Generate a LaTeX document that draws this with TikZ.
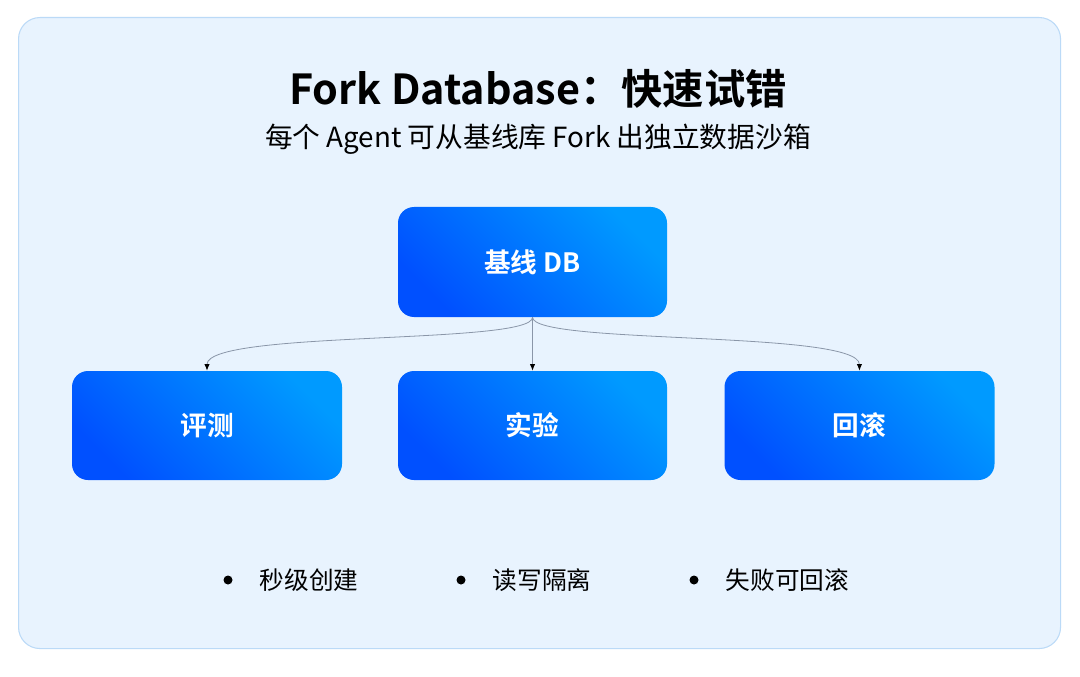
\documentclass[tikz,border=0pt]{standalone}
\usepackage{fontspec}
\setmainfont{Noto Sans CJK SC}
\newfontfamily\cjkb{Noto Sans CJK SC Bold}
\usetikzlibrary{arrows.meta}
\definecolor{panel}{HTML}{E8F3FE}
\definecolor{panelb}{HTML}{BBDAF7}
\definecolor{deep}{HTML}{0050FF}
\definecolor{light}{HTML}{009AFF}
\definecolor{conn}{HTML}{8A96A8}
\begin{document}
\begin{tikzpicture}[x=0.75pt,y=-0.75pt,
  box/.style={rounded corners=12pt,left color=deep,right color=light,shading angle=135,draw=none},
  lbl/.style={text=white,font=\cjkb\fontsize{20}{22}\selectfont},
  conn/.style={draw=conn,line width=0.6pt,-{Latex[length=5pt,width=4pt,color=black]}},
  bul/.style={font=\fontsize{18.5}{21}\selectfont,anchor=west}]
\useasboundingbox (0,0) rectangle (1080,677);
\node[draw=panelb,fill=panel,rounded corners=16pt,line width=0.8pt,minimum width=1042*0.75pt,minimum height=631*0.75pt,anchor=north west] (panel) at (18,17) {};
\node[font=\cjkb\fontsize{31}{36}\selectfont] (title) at (538,89) {Fork Database：快速试错};
\node[font=\fontsize{20.8}{24}\selectfont] (sub) at (538,139) {每个 Agent 可从基线库 Fork 出独立数据沙箱};
\node[box,minimum width=269*0.75pt,minimum height=110*0.75pt] (db) at (532.5,262) {};
\node[lbl] at (db) {基线 DB};
\node[box,minimum width=270*0.75pt,minimum height=109*0.75pt] (a) at (207,425.5) {};
\node[lbl] at (a) {评测};
\node[box,minimum width=269*0.75pt,minimum height=109*0.75pt] (b) at (532.5,425.5) {};
\node[lbl] at (b) {实验};
\node[box,minimum width=270*0.75pt,minimum height=109*0.75pt] (c) at (859.5,425.5) {};
\node[lbl] at (c) {回滚};
\coordinate (s) at (db.south);
\draw[conn] (s) .. controls (533,345) and (207,330) .. (a.north);
\draw[conn] (s) -- (b.north);
\draw[conn] (s) .. controls (533,345) and (859,330) .. (c.north);
\foreach \x/\t/\n in {228/秒级创建/p1,461/读写隔离/p2,694/失败可回滚/p3}{
  \fill (\x,580) circle (4.5*0.75pt);
  \node[bul] (\n) at (\x+27,580) {\t};
}
\end{tikzpicture}
\end{document}
